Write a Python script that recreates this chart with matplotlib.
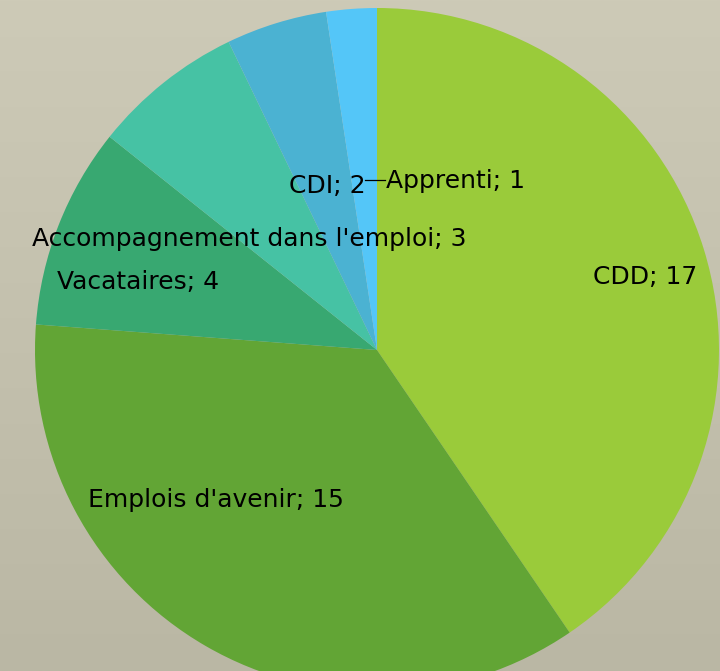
import numpy as np
import matplotlib
matplotlib.use("Agg")
import matplotlib.pyplot as plt
from matplotlib.colors import LinearSegmentedColormap

# data
categories = ["CDD", "Emplois d'avenir", "Vacataires",
              "Accompagnement dans l'emploi", "CDI", "Apprenti"]
values = [17, 15, 4, 3, 2, 1]
colors = ["#9ACB3A", "#62A535", "#38A871", "#46C2A4", "#4BB2D2", "#54C6F8"]

# label placement (pixel coords, y from top, horizontal anchor)
label_pos = {
    "CDD": (645, 277, "center"),
    "Emplois d'avenir": (216, 500, "center"),
    "Vacataires": (138, 282, "center"),
    "Accompagnement dans l'emploi": (249, 239, "center"),
    "CDI": (366, 186, "right"),
    "Apprenti": (386, 181, "left"),
}

W, H = 720, 671
fig = plt.figure(figsize=(W / 100, H / 100), dpi=100)
ax = fig.add_axes([0, 0, 1, 1])

# background gradient
bg = LinearSegmentedColormap.from_list("bg", ["#bab7a4", "#cdcab7"])
grad = np.linspace(0, 1, 256).reshape(-1, 1)
ax.imshow(grad, cmap=bg, aspect="auto", extent=(0, W, 0, H), origin="lower", zorder=0)

cx, cy, r = 377, H - 350, 342
ax.pie(values, colors=colors, startangle=90, counterclock=False,
       center=(cx, cy), radius=r, frame=True,
       wedgeprops=dict(linewidth=0, zorder=1))

for cat, val in zip(categories, values):
    x, y, ha = label_pos[cat]
    ax.text(x, H - y, f"{cat}; {val}", ha=ha, va="center",
            fontsize=18, color="black", zorder=3)

# leader line for Apprenti
ax.plot([365, 385], [H - 180, H - 180], color="black", linewidth=0.9, zorder=3)

ax.set_xlim(0, W)
ax.set_ylim(0, H)
ax.set_aspect("equal")
ax.axis("off")

plt.savefig("out.png", dpi=100)
plt.close(fig)
